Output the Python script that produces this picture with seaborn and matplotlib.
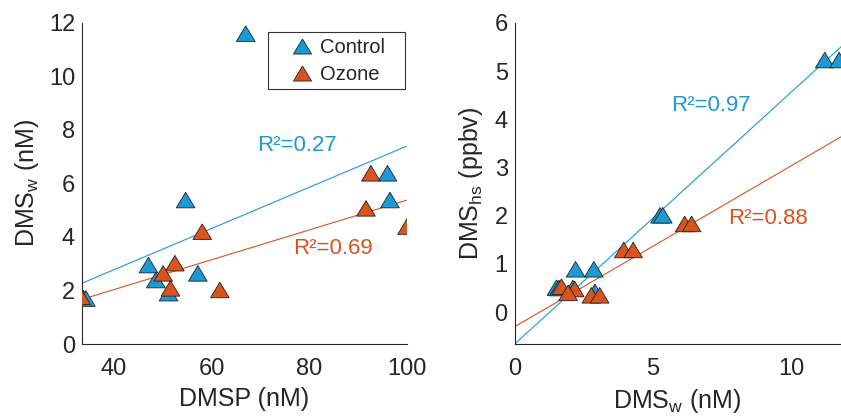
import numpy as np
import pandas as pd
import matplotlib
matplotlib.use("Agg")
import matplotlib.pyplot as plt
from matplotlib.patches import Rectangle
import seaborn as sns

# left panel: DMSP vs DMS_w
dmsp_ctrl = [67.0, 54.7, 96.0, 96.5, 47.1, 48.6, 51.2, 57.2, 33.8, 34.3]
dmsw_ctrl = [11.6, 5.38, 6.38, 5.38, 2.95, 2.39, 1.90, 2.64, 1.71, 1.70]
dmsp_oz = [92.6, 91.6, 100.0, 58.1, 52.5, 50.1, 51.6, 61.7, 33.3]
dmsw_oz = [6.38, 5.07, 4.39, 4.20, 3.02, 2.64, 2.08, 2.02, 1.77]

# right panel: DMS_w vs DMS_hs
w_ctrl = [11.2, 11.72, 5.25, 5.35, 2.20, 2.86, 1.51, 2.10, 2.90, 1.60]
hs_ctrl = [5.23, 5.23, 2.01, 2.01, 0.89, 0.89, 0.51, 0.50, 0.42, 0.50]
w_oz = [3.94, 4.28, 6.14, 6.39, 1.69, 2.17, 1.93, 2.77, 3.07]
hs_oz = [1.29, 1.29, 1.83, 1.83, 0.53, 0.48, 0.40, 0.35, 0.35]

# linear fits (slope, intercept) and R²
fit_left = {"Control": (0.0771, -0.31), "Ozone": (0.0558, -0.20)}
fit_right = {"Control": (0.523, -0.66), "Ozone": (0.334, -0.30)}
r2_left = {"Control": "R²=0.27", "Ozone": "R²=0.69"}
r2_right = {"Control": "R²=0.97", "Ozone": "R²=0.88"}

colors = {"Control": "#1b9ad6", "Ozone": "#d9531e"}

# slightly wide triangle, like the original markers
tri = [(0, 1), (-1.2, -1), (1.2, -1), (0, 1)]

left = pd.DataFrame({
    "x": dmsp_ctrl + dmsp_oz,
    "y": dmsw_ctrl + dmsw_oz,
    "group": ["Control"] * len(dmsp_ctrl) + ["Ozone"] * len(dmsp_oz),
})
right = pd.DataFrame({
    "x": w_ctrl + w_oz,
    "y": hs_ctrl + hs_oz,
    "group": ["Control"] * len(w_ctrl) + ["Ozone"] * len(w_oz),
})

sns.set_style("white")
plt.rcParams["font.family"] = ["Liberation Sans", "DejaVu Sans"]
plt.rcParams["mathtext.fontset"] = "custom"
plt.rcParams["mathtext.rm"] = "Liberation Sans"

fig = plt.figure(figsize=(8.41, 4.17), dpi=100)
ax1 = fig.add_axes([0.0975, 0.175, 0.3865, 0.77])
ax2 = fig.add_axes([0.612, 0.175, 0.395, 0.77])


def draw(ax, df, fits, r2, xlim, ylim, text_pos):
    xs = np.array(xlim)
    for g in ["Control", "Ozone"]:
        m, b = fits[g]
        ax.plot(xs, m * xs + b, color=colors[g], lw=0.8, zorder=1)
    sns.scatterplot(data=df, x="x", y="y", hue="group", palette=colors,
                    marker=tri, s=180, edgecolor="#222222", linewidth=0.6,
                    ax=ax, zorder=3, legend=False)
    for g in ["Control", "Ozone"]:
        tx, ty = text_pos[g]
        ax.text(tx, ty, r2[g], color=colors[g], fontsize=16,
                ha="left", va="center")
    ax.set_xlim(xlim)
    ax.set_ylim(ylim)
    for s in ["top", "right"]:
        ax.spines[s].set_visible(False)
    for s in ["left", "bottom"]:
        ax.spines[s].set_color("#262626")
        ax.spines[s].set_linewidth(0.8)
    ax.tick_params(direction="in", length=3, width=0.8, colors="#262626",
                   labelsize=17)
    ax.tick_params(axis="x", pad=10)
    ax.tick_params(axis="y", pad=5)


draw(ax1, left, fit_left, r2_left, (33.5, 100), (0, 12),
     {"Control": (69.4, 7.41), "Ozone": (76.6, 3.58)})
ax1.set_xticks([40, 60, 80, 100])
ax1.set_yticks(range(0, 13, 2))
ax1.set_xlabel("DMSP (nM)", fontsize=18, color="#262626")
ax1.set_ylabel(r"DMS$_\mathregular{w}$ (nM)", fontsize=18, color="#262626")
ax1.xaxis.set_label_coords(0.5, -0.135)
ax1.yaxis.set_label_coords(-0.125, 0.5)

draw(ax2, right, fit_right, r2_right, (0, 12), (-0.66, 6),
     {"Control": (5.66, 4.29), "Ozone": (7.71, 1.94)})
ax2.set_xticks([0, 5, 10])
ax2.set_yticks(range(0, 7))
ax2.set_xlabel(r"DMS$_\mathregular{w}$ (nM)", fontsize=18, color="#262626")
ax2.set_ylabel(r"DMS$_\mathregular{hs}$ (ppbv)", fontsize=18, color="#262626")
ax2.xaxis.set_label_coords(0.49, -0.135)
ax2.yaxis.set_label_coords(-0.09, 0.5)

handles = [plt.Line2D([], [], marker=tri, ls="none", markersize=13,
                      markerfacecolor=colors[g], markeredgecolor="#222222",
                      markeredgewidth=0.6, label=g)
           for g in ["Control", "Ozone"]]
ax1.legend(handles=handles, loc="center left",
           bbox_to_anchor=(0.64, 0.882), fontsize=14.5, frameon=False,
           handlelength=1.2, handletextpad=0.3, borderpad=0,
           borderaxespad=0, labelspacing=0.4)
ax1.add_patch(Rectangle((0.572, 0.794), 0.422, 0.178,
                        transform=ax1.transAxes, fill=False,
                        edgecolor="#333333", lw=0.8, zorder=5,
                        clip_on=False))

fig.savefig("out.png", dpi=100)
